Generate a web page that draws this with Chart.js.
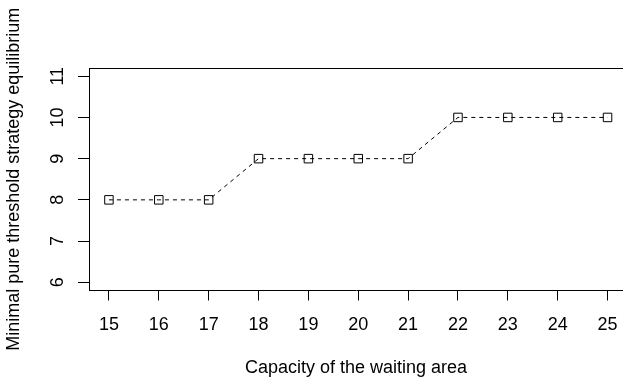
<!DOCTYPE html>
<html>
<head>
<meta charset="utf-8">
<script src="https://cdn.jsdelivr.net/npm/chart.js@4/dist/chart.umd.min.js"></script>
<style>
html,body{margin:0;padding:0;background:#fff;overflow:hidden;}
canvas{display:block;}
</style>
</head>
<body>
<canvas id="c" width="623" height="379"></canvas>
<script>
const capacities = [15, 16, 17, 18, 19, 20, 21, 22, 23, 24, 25];
const thresholds = [8, 8, 8, 9, 9, 9, 9, 10, 10, 10, 10];
const xTicks = [15, 16, 17, 18, 19, 20, 21, 22, 23, 24, 25];
const yTicks = [6, 7, 8, 9, 10, 11];
const xTitle = 'Capacity of the waiting area';
const yTitle = 'Minimal pure threshold strategy equilibrium';

const FONT = '"Liberation Sans", Arial, Helvetica, sans-serif';
const FS = 18;

const frame = {
  id: 'frame',
  afterDraw(chart) {
    const {ctx, chartArea: a} = chart;
    ctx.save();
    ctx.strokeStyle = '#000';
    ctx.lineWidth = 1;
    ctx.beginPath();
    ctx.moveTo(a.left, Math.round(a.top) + 0.5);
    ctx.lineTo(chart.width, Math.round(a.top) + 0.5);
    ctx.stroke();
    const ys = chart.scales.y;
    ctx.fillStyle = '#000';
    ctx.font = FS + 'px ' + FONT;
    ctx.textAlign = 'center';
    ctx.textBaseline = 'alphabetic';
    yTicks.forEach(v => {
      const py = ys.getPixelForValue(v);
      ctx.save();
      ctx.translate(62.5, py);
      ctx.rotate(-Math.PI / 2);
      ctx.fillText(String(v), 0, 0);
      ctx.restore();
    });
    ctx.restore();
  }
};

new Chart(document.getElementById('c'), {
  type: 'line',
  data: {
    datasets: [{
      data: capacities.map((x, i) => ({x: x, y: thresholds[i]})),
      borderColor: '#000',
      borderWidth: 1,
      borderDash: [4, 4],
      pointStyle: 'rect',
      pointRadius: 6,
      pointBorderWidth: 1,
      pointBorderColor: '#000',
      pointBackgroundColor: 'rgba(0,0,0,0)',
      fill: false,
      tension: 0
    }]
  },
  options: {
    responsive: false,
    devicePixelRatio: 1,
    animation: false,
    layout: {autoPadding: false, padding: {top: 68, right: 0, left: 0, bottom: 0}},
    plugins: {legend: {display: false}, tooltip: {enabled: false}},
    scales: {
      x: {
        type: 'linear',
        min: 14.6,
        max: 25.31,
        afterBuildTicks: s => { s.ticks = xTicks.map(v => ({value: v})); },
        afterFit: s => { s.height = 88.5; s.paddingLeft = 0; s.paddingRight = 0; },
        grid: {drawOnChartArea: false, drawTicks: true, tickLength: 10, color: '#000'},
        border: {display: true, color: '#000', width: 1},
        ticks: {color: '#000', font: {family: FONT, size: FS}, padding: 14, maxRotation: 0, autoSkip: false},
        title: {display: true, text: xTitle, color: '#000', font: {family: FONT, size: FS}, padding: {top: 0, bottom: 0}}
      },
      y: {
        type: 'linear',
        min: 5.8,
        max: 11.2,
        afterBuildTicks: s => { s.ticks = yTicks.map(v => ({value: v})); },
        afterFit: s => { s.width = 89; s.paddingTop = 0; s.paddingBottom = 0; },
        grid: {drawOnChartArea: false, drawTicks: true, tickLength: 11, color: '#000'},
        border: {display: true, color: '#000', width: 1},
        ticks: {color: 'rgba(0,0,0,0)', font: {family: FONT, size: FS}},
        title: {display: true, text: yTitle, color: '#000', font: {family: FONT, size: FS}, padding: {top: 3, bottom: 0}}
      }
    }
  },
  plugins: [frame]
});
</script>
</body>
</html>
